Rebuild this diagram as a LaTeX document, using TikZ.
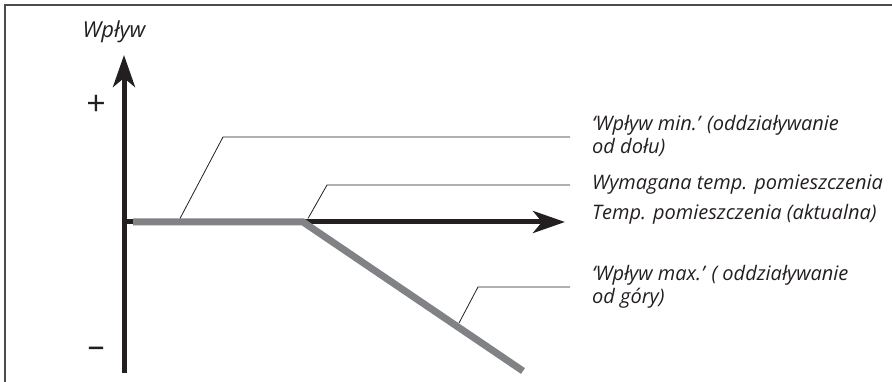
\documentclass[tikz,border=0pt]{standalone}
\usepackage{fontspec}
\setmainfont{Open Sans}
\usetikzlibrary{arrows.meta}
\definecolor{curvegray}{RGB}{128,130,133}
\definecolor{ink}{RGB}{35,31,32}
\tikzset{
  axis/.style={line width=5pt, draw=ink, -{Stealth[length=32pt,width=22pt,inset=9pt]}},
  curve/.style={line width=7pt, draw=curvegray, line join=miter},
  leader/.style={line width=0.8pt, draw=ink},
  lbl/.style={anchor=base west, inner sep=0pt, font=\fontsize{20}{24}\selectfont\itshape, text=ink},
  sign/.style={inner sep=0pt, font=\fontsize{34}{36}\selectfont, text=ink}
}
\begin{document}
\begin{tikzpicture}[x=1pt,y=-1pt]
\useasboundingbox (0,0) rectangle (892,382);
\draw[line width=2pt, draw=black!70] (5,382) -- (5,5) -- (892,5);
% axes
\coordinate (O) at (124,222);
\coordinate (ybot) at (124,373);
\coordinate (ytop) at (124,55);
\coordinate (xend) at (565,222);
\draw[axis] (ybot) -- (ytop);
\draw[axis] (O) -- (xend);
% curve
\coordinate (c0) at (133,222);
\coordinate (c1) at (303,222);
\coordinate (c2) at (523,371);
\draw[curve] (c0) -- (c1) -- (c2);
% labels
\node[lbl] (t1) at (592,131) {‘Wpływ min.’ (oddziaływanie};
\node[lbl] (t1b) at (592,154) {od dołu)};
\node[lbl] (t2) at (592,190) {Wymagana temp. pomieszczenia};
\node[lbl] (t3) at (592,220) {Temp. pomieszczenia (aktualna)};
\node[lbl] (t4) at (592,280) {‘Wpływ max.’ ( oddziaływanie};
\node[lbl] (t4b) at (592,303) {od góry)};
\node[inner sep=0pt, font=\fontsize{22}{24}\selectfont\itshape, text=ink] (yl) at (114,32) {Wpływ};
\node[sign] (plus) at (96,105) {+};
\node[sign] (minus) at (96,352) {–};
% leaders
\coordinate (l1a) at (180,218.5);
\coordinate (l1b) at (223,137);
\coordinate (l1c) at (570,137);
\draw[leader] (l1a) -- (l1b) -- (l1c);
\coordinate (l2a) at (308,218.5);
\coordinate (l2b) at (327,185);
\coordinate (l2c) at (570,185);
\draw[leader] (l2a) -- (l2b) -- (l2c);
\coordinate (l3a) at (459,323);
\coordinate (l3b) at (478,287);
\coordinate (l3c) at (570,287);
\draw[leader] (l3a) -- (l3b) -- (l3c);
\end{tikzpicture}
\end{document}
